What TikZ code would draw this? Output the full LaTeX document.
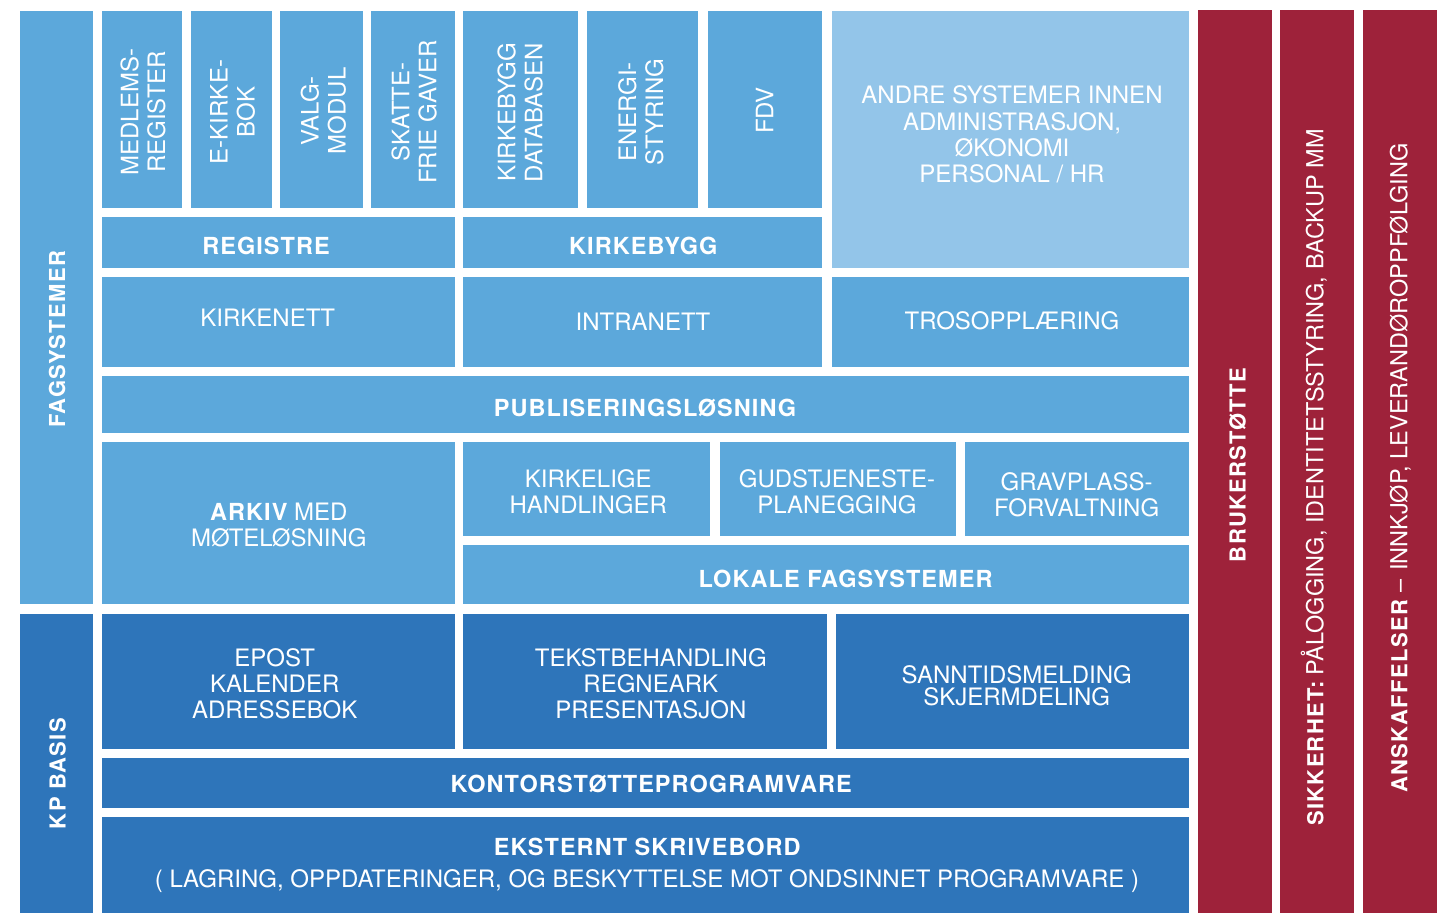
\documentclass[tikz,border=0pt]{standalone}
\usepackage{fontspec}
\setmainfont{TeX Gyre Heros}
\newfontfamily\hdA{TeX Gyre Heros}[LetterSpace=4.5]
\newfontfamily\hdB{TeX Gyre Heros}[LetterSpace=6]
\definecolor{bA}{RGB}{92,168,219}
\definecolor{bD}{RGB}{46,117,186}
\definecolor{bL}{RGB}{147,197,233}
\definecolor{rd}{RGB}{158,34,58}
\newcommand\blk[6]{\node[blk,fill=#6,minimum width={(#4-#2)*1pt},minimum height={(#5-#3)*1pt}] (#1) at ({(#2+#4)/2},{(#3+#5)/2}) {};}
\begin{document}
\begin{tikzpicture}[x=1pt,y=-1pt,
  blk/.style={rectangle,inner sep=0pt,outer sep=0pt,draw=none},
  txt/.style={text=white,font=\fontsize{24}{26}\selectfont,align=center,inner sep=0pt},
  txtv/.style={text=white,font=\fontsize{24}{27}\selectfont,align=center,inner sep=0pt,rotate=90},
  txtone/.style={text=white,font=\fontsize{24}{26}\selectfont,inner sep=0pt,anchor=base},
  hd/.style={text=white,font=\hdA\bfseries\fontsize{23.5}{26}\selectfont,inner sep=0pt,anchor=base},
  side/.style={text=white,font=\hdB\bfseries\fontsize{22}{26}\selectfont,inner sep=0pt,anchor=base,rotate=90},
  redtxt/.style={text=white,font=\fontsize{23.5}{26}\selectfont,inner sep=0pt,anchor=base,rotate=90}]
\useasboundingbox (0,0) rectangle (1452,913);
% boxes
\blk{fag}{20}{11}{93}{604.3}{bA}
\blk{kpb}{20}{614}{93}{913}{bD}
\blk{med}{101.7}{11}{182.3}{207.7}{bA}
\blk{eki}{190.7}{11}{271.7}{207.7}{bA}
\blk{val}{279.7}{11}{363.3}{207.7}{bA}
\blk{ska}{371}{11}{454.7}{207.7}{bA}
\blk{kdb}{463.3}{11}{578.3}{207.7}{bA}
\blk{ene}{586.7}{11}{698.3}{207.7}{bA}
\blk{fdv}{707.7}{11}{822.3}{207.7}{bA}
\blk{and}{831.7}{11}{1189}{268.3}{bL}
\blk{reg}{101.7}{217}{454.7}{267.7}{bA}
\blk{kby}{463.3}{217}{822.3}{267.7}{bA}
\blk{knt}{101.7}{277}{454.7}{366.7}{bA}
\blk{int}{463.3}{277}{822.3}{366.7}{bA}
\blk{tro}{831.7}{277}{1189}{366.7}{bA}
\blk{pub}{101.7}{376}{1189}{433.3}{bA}
\blk{ark}{101.7}{442}{454.7}{604.3}{bA}
\blk{kha}{463.3}{442}{710.3}{536}{bA}
\blk{gud}{720}{442}{955.7}{536}{bA}
\blk{gra}{965}{442}{1189}{536}{bA}
\blk{lok}{463.3}{545.3}{1189}{604.3}{bA}
\blk{epo}{101.7}{614}{454.7}{749}{bD}
\blk{tek}{463.3}{614}{826.7}{749}{bD}
\blk{san}{835.7}{614}{1189}{749}{bD}
\blk{kon}{101.7}{758}{1189}{807.7}{bD}
\blk{eks}{101.7}{817}{1189}{913}{bD}
\blk{bru}{1198}{10}{1271.7}{913}{rd}
\blk{sik}{1280}{10}{1353.7}{913}{rd}
\blk{ans}{1363}{10}{1436.7}{913}{rd}
% vertical labels in top boxes
\node[txtv] (t-med) at (143,112) {MEDLEMS-\\REGISTER};
\node[txtv] (t-eki) at (232.7,112) {E-KIRKE-\\BOK};
\node[txtv] (t-val) at (323.3,110.8) {VALG-\\MODUL};
\node[txtv] (t-ska) at (414.2,112) {SKATTE-\\FRIE GAVER};
\node[txtv] (t-kdb) at (520,112.5) {KIRKEBYGG\\DATABASEN};
\node[txtv] (t-ene) at (640.8,112) {ENERGI-\\STYRING};
\node[txtone,rotate=90] (t-fdv) at (773.3,110.5) {FDV};
% horizontal labels
\node[txt,font=\fontsize{24}{26.3}\selectfont] (t-and) at (1012,134.5) {ANDRE SYSTEMER INNEN\\ADMINISTRASJON,\\ØKONOMI\\PERSONAL / HR};
\node[hd] (t-reg) at (266,254) {REGISTRE};
\node[hd] (t-kby) at (643.3,254) {KIRKEBYGG};
\node[txtone] (t-knt) at (267.8,326.7) {KIRKENETT};
\node[txtone] (t-int) at (643,330.7) {INTRANETT};
\node[txtone] (t-tro) at (1012,329.3) {TROSOPPLÆRING};
\node[hd] (t-pub) at (645,416) {PUBLISERINGSLØSNING};
\node[txt] (t-kha) at (588.3,491.7) {KIRKELIGE\\HANDLINGER};
\node[txt] (t-gud) at (837,492) {GUDSTJENESTE-\\PLANEGGING};
\node[txt] (t-gra) at (1076.7,494.3) {GRAVPLASS-\\FORVALTNING};
\node[hd] (t-lok) at (845.5,587.7) {LOKALE FAGSYSTEMER};
\node[txt] (t-ark) at (278.8,525.3) {{\hdA\bfseries\fontsize{23.5}{26}\selectfont ARKIV} MED\\MØTELØSNING};
\node[txt] (t-epo) at (274.7,684.2) {EPOST\\KALENDER\\ADRESSEBOK};
\node[txt] (t-tek) at (650.8,684.2) {TEKSTBEHANDLING\\REGNEARK\\PRESENTASJON};
\node[txt,font=\fontsize{24}{22.3}\selectfont] (t-san) at (1016.7,685.7) {SANNTIDSMELDING\\SKJERMDELING};
\node[hd] (t-kon) at (651.2,792.3) {KONTORSTØTTEPROGRAMVARE};
\node[hd] (t-eks) at (647.3,855) {EKSTERNT SKRIVEBORD};
\node[txtone] (t-eks2) at (647,887) {( LAGRING, OPPDATERINGER, OG BESKYTTELSE MOT ONDSINNET PROGRAMVARE )};
% side labels
\node[side] (t-fag) at (65,339.3) {FAGSYSTEMER};
\node[side] (t-kpb) at (65.5,773.5) {KP BASIS};
\node[side] (t-bru) at (1245.7,465) {BRUKERSTØTTE};
\node[redtxt] (t-sik) at (1323.3,477.5) {{\hdB\bfseries\fontsize{22}{26}\selectfont SIKKERHET:} PÅLOGGING, IDENTITETSSTYRING, BACKUP MM};
\node[redtxt] (t-ans) at (1407.3,468.3) {{\hdB\bfseries\fontsize{22}{26}\selectfont ANSKAFFELSER}\hspace{8pt}–\hspace{8pt}INNKJØP, LEVERANDØROPPFØLGING};
\end{tikzpicture}
\end{document}
